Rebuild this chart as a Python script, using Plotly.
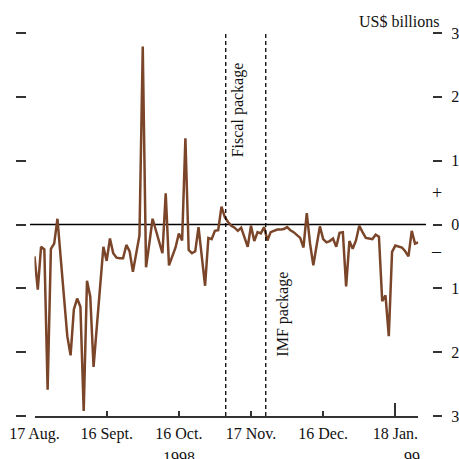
import plotly.graph_objects as go

# ---- data (business-day index from 17 Aug 1998) ----
flows = [
    -0.50, -1.02, -0.35, -0.39, -2.59, -0.38, -0.30, 0.09, -0.53, -1.20,
    -1.75, -2.05, -1.33, -1.16, -1.29, -2.92, -0.88, -1.13, -2.23, -1.60,
    -0.98, -0.35, -0.57, -0.22, -0.45, -0.52, -0.53, -0.53, -0.32, -0.42,
    -0.74, -0.45, -0.17, 2.79, -0.67, -0.30, 0.09, -0.09, -0.27, -0.45,
    0.49, -0.64, -0.50, -0.36, -0.14, -0.25, 1.35, -0.40, -0.45, -0.42,
    -0.04, -0.47, -0.96, -0.21, -0.23, -0.10, -0.09, 0.28, 0.12, 0.04,
    -0.02, -0.05, -0.10, -0.05, -0.21, -0.35, -0.02, -0.26, -0.12, -0.14,
    -0.04, -0.25, -0.12, -0.10, -0.08, -0.08, -0.07, -0.04, -0.09, -0.12,
    -0.16, -0.21, -0.36, 0.18, -0.30, -0.64, -0.33, -0.03, -0.23, -0.28,
    -0.26, -0.22, -0.35, -0.13, -0.12, -0.97, -0.26, -0.38, -0.25, -0.02,
    -0.12, -0.21, -0.22, -0.23, -0.16, -0.19, -1.20, -1.11, -1.75, -0.43,
    -0.33, -0.34, -0.36, -0.42, -0.50, -0.10, -0.30, -0.28,
]
days = list(range(len(flows)))

tick_days = [0, 22, 44, 66, 88, 110]
tick_labels = ["17 Aug.", "16 Sept.", "16 Oct.", "17 Nov.", "16 Dec.", "18 Jan."]
year_marks = [("1998", 44, 0), ("99", 110, 17)]

y_ticks = [-3, -2, -1, 0, 1, 2, 3]
y_tick_labels = ["3", "2", "1", "0", "1", "2", "3"]

events = [("Fiscal package", 58.3, 12, 1.8), ("IMF package", 70.5, 17, -1.4)]

FONT = "Liberation Serif"
W = H = 459

def px_x(p):
    return p / W

def px_y(p):
    return (H - p) / H

fig = go.Figure()
fig.add_trace(go.Scatter(
    x=days, y=flows, mode="lines",
    line=dict(color="#7a4529", width=2.5),
    hoverinfo="skip", showlegend=False,
))
# dummy traces to activate overlay axes
fig.add_trace(go.Scatter(x=[None], y=[None], yaxis="y2", showlegend=False, hoverinfo="skip"))
fig.add_trace(go.Scatter(x=[None], y=[None], xaxis="x2", showlegend=False, hoverinfo="skip"))

xdom = [px_x(34.5), px_x(418.3)]
ydom = [px_y(416), px_y(33)]

fig.update_layout(
    width=W, height=H,
    margin=dict(l=0, r=0, t=0, b=0),
    paper_bgcolor="white", plot_bgcolor="white",
    showlegend=False,
    font=dict(family=FONT, size=16, color="#111"),
    xaxis=dict(
        domain=xdom, range=[0, len(flows) - 1], anchor="y", automargin=False,
        showgrid=False, zeroline=False,
        showline=True, linecolor="#333", linewidth=1.5,
        ticks="inside", ticklen=5, tickwidth=1.5, tickcolor="#333",
        tickvals=tick_days, ticktext=tick_labels,
        tickfont=dict(family=FONT, size=16, color="#111"),
        ticklabelstandoff=2,
    ),
    xaxis2=dict(
        overlaying="x", anchor="y", range=[0, len(flows) - 1], automargin=False,
        showgrid=False, zeroline=False, showline=False,
        ticks="inside", ticklen=13, tickwidth=1.5, tickcolor="#333",
        tickvals=[tick_days[-1]], showticklabels=False,
    ),
    yaxis=dict(
        domain=ydom, range=[-3, 3], anchor="free", position=px_x(25.5), automargin=False,
        showgrid=False, zeroline=False, showline=False,
        ticks="outside", ticklen=10, tickwidth=1.6, tickcolor="#333",
        tickvals=y_ticks, showticklabels=False,
    ),
    yaxis2=dict(
        overlaying="y", range=[-3, 3], anchor="free", position=px_x(432), automargin=False,
        side="right",
        showgrid=False, zeroline=False, showline=False,
        ticks="outside", ticklen=9, tickwidth=1.6, tickcolor="#333",
        tickvals=y_ticks, ticktext=y_tick_labels,
        tickfont=dict(family=FONT, size=16, color="#111"),
        ticklabelstandoff=6,
    ),
)

shapes = [
    dict(type="line", xref="paper", yref="y", x0=px_x(30), x1=px_x(426), y0=0, y1=0,
         line=dict(color="black", width=1.3), layer="below"),
]
annotations = [
    dict(text="US$ billions", xref="paper", yref="paper", x=px_x(441), y=px_y(22),
         xanchor="right", yanchor="middle", showarrow=False,
         font=dict(family=FONT, size=16, color="#111")),
    dict(text="+", xref="paper", yref="y", x=px_x(436.5), y=0.5,
         xanchor="center", yanchor="middle", showarrow=False,
         font=dict(family=FONT, size=18, color="#111")),
    dict(text="–", xref="paper", yref="y", x=px_x(436.5), y=-0.42,
         xanchor="center", yanchor="middle", showarrow=False,
         font=dict(family=FONT, size=18, color="#111")),
]
for label, xpos, shift, ypos in events:
    shapes.append(dict(type="line", xref="x", yref="y", x0=xpos, x1=xpos, y0=-3, y1=3,
                       line=dict(color="black", width=1.3, dash="4px,3px")))
    annotations.append(dict(text=label, xref="x", yref="y", x=xpos, y=ypos, xshift=shift,
                            textangle=-90, xanchor="center", yanchor="middle",
                            showarrow=False, font=dict(family=FONT, size=16, color="#111")))
for label, xpos, shift in year_marks:
    annotations.append(dict(text=label, xref="x", yref="paper", x=xpos, y=px_y(457),
                            xshift=shift, xanchor="center", yanchor="middle",
                            showarrow=False, font=dict(family=FONT, size=16, color="#111")))

fig.update_layout(shapes=shapes, annotations=annotations)
fig.write_html(
    "out.html",
    config={"displayModeBar": False},
    post_script="document.body.style.margin='0';document.body.style.overflow='hidden';",
)
